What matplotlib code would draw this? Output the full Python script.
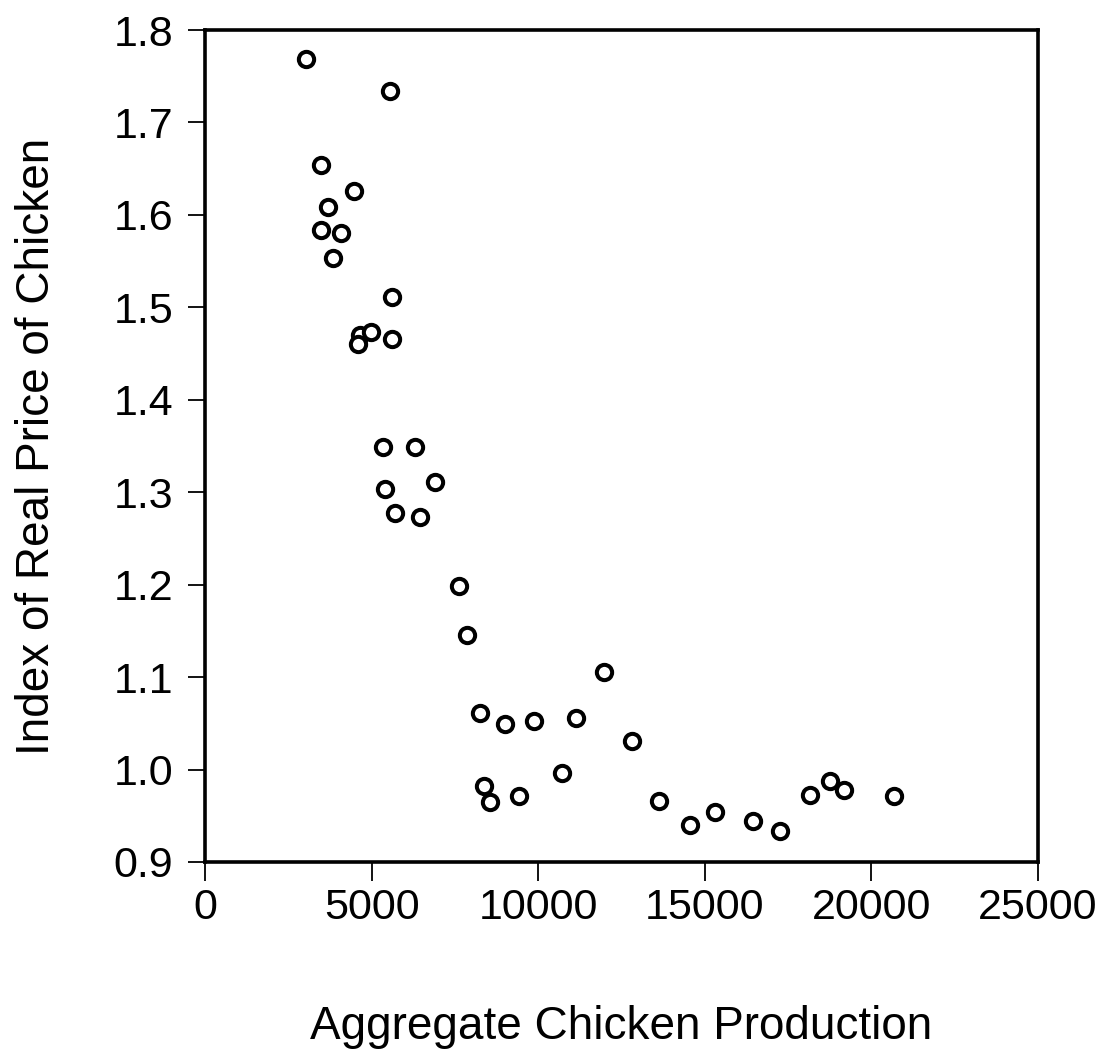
import matplotlib
matplotlib.use("Agg")
import matplotlib.pyplot as plt

# Aggregate chicken production vs. real price index
production = [3029, 5540, 3488, 4478, 3680, 3488, 4088, 3830, 5600, 4649,
              4988, 4598, 5600, 5348, 6299, 5399, 6899, 5699, 6449, 7610,
              7858, 11977, 8257, 9007, 9868, 11128, 12829, 8359, 8557, 9418,
              10717, 13638, 14547, 15306, 16458, 17256, 18168, 18768, 19166, 20675]
price_index = [1.769, 1.734, 1.654, 1.626, 1.609, 1.584, 1.580, 1.553, 1.511, 1.470,
               1.473, 1.460, 1.466, 1.349, 1.349, 1.304, 1.311, 1.277, 1.273, 1.199,
               1.145, 1.105, 1.061, 1.049, 1.052, 1.056, 1.031, 0.982, 0.965, 0.971,
               0.996, 0.966, 0.940, 0.954, 0.944, 0.933, 0.972, 0.988, 0.978, 0.971]

x_ticks = [0, 5000, 10000, 15000, 20000, 25000]
y_ticks = [0.9, 1.0, 1.1, 1.2, 1.3, 1.4, 1.5, 1.6, 1.7, 1.8]

plt.rcParams['font.family'] = ['Liberation Sans', 'DejaVu Sans']

fig = plt.figure(figsize=(11.14, 10.61), dpi=100)
ax = fig.add_axes([0.184, 0.1876, 0.7478, 0.7841])

ax.plot(production, price_index, linestyle='none', marker='o',
        markersize=11, markerfacecolor='white', markeredgecolor='black',
        markeredgewidth=2.9)

ax.set_xlim(0, 25000)
ax.set_ylim(0.9, 1.8)
ax.set_xticks(x_ticks)
ax.set_xticklabels([str(t) for t in x_ticks])
ax.set_yticks(y_ticks)
ax.set_yticklabels([f"{t:.1f}" for t in y_ticks])

for s in ax.spines.values():
    s.set_linewidth(2.6)

ax.tick_params(direction='out', width=1.3, labelsize=31)
ax.tick_params(axis='x', length=14, pad=5)
ax.tick_params(axis='y', length=12, pad=11)

ax.set_xlabel('Aggregate Chicken Production', fontsize=33)
ax.set_ylabel('Index of Real Price of Chicken', fontsize=33)
ax.xaxis.set_label_coords(0.5, -0.172)
ax.yaxis.set_label_coords(-0.175, 0.5)

fig.savefig('out.png', dpi=100)
